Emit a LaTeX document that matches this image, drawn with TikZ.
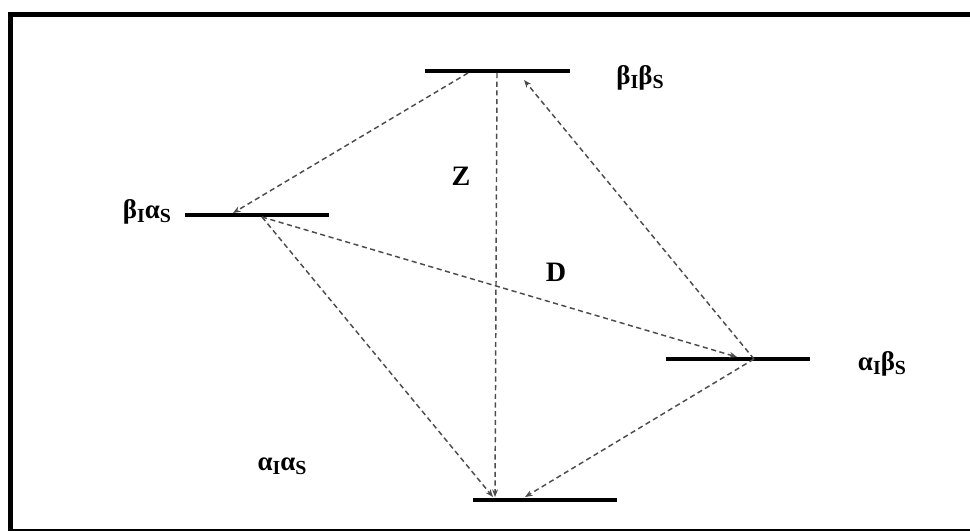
\documentclass[tikz,border=0pt]{standalone}
\usepackage{fontspec}
\setmainfont{Liberation Serif}
\usetikzlibrary{arrows.meta}
\newcommand{\spinsub}[1]{\raisebox{-0.35ex}{\fontsize{17}{19}\selectfont #1}}
\tikzset{
  every node/.style={inner sep=0pt},
  lvl/.style={line width=3.8pt},
  frame/.style={line width=4.3pt},
  trans/.style={-{Stealth[length=6.5pt,width=5pt]},draw=black!70,line width=1.25pt,
                dash pattern=on 4.4pt off 3pt},
  spin/.style={font=\fontsize{23}{27}\selectfont\bfseries},
  lab/.style={font=\fontsize{24}{28}\selectfont\bfseries},
}

\begin{document}
\begin{tikzpicture}[x=0.03cm,y=-0.03cm]
\useasboundingbox (0,0) rectangle (970,531);

% ---- frame ----
\draw[frame] (8,14.5) -- (970,14.5);
\draw[frame] (10.5,12) -- (10.5,531);
\draw[line width=1.3pt] (8,530) -- (970,530);

% ---- levels ----
\draw[lvl] (425,71) -- (570,71);
\draw[lvl] (185,215) -- (329,215);
\draw[lvl] (666,359) -- (810,359);
\draw[lvl] (473,500) -- (617,500);

\node[spin] (bb) at (640,78)  {β\spinsub{I}β\spinsub{S}};
\node[spin] (ba) at (147,212) {β\spinsub{I}α\spinsub{S}};
\node[spin] (ab) at (882,364) {α\spinsub{I}β\spinsub{S}};
\node[spin] (aa) at (282,466) {α\spinsub{I}α\spinsub{S}};

% ---- end points on the levels ----
\coordinate (bbL) at (468,73);
\coordinate (bbM) at (497,73);
\coordinate (bbR) at (524,80);
\coordinate (baL) at (233,213);
\coordinate (baR) at (262,217);
\coordinate (abL) at (737,357);
\coordinate (abR) at (754,359);
\coordinate (aaL) at (493,497);
\coordinate (aaM) at (495,497);
\coordinate (aaR) at (525,497);

% ---- transitions ----
\draw[trans] (bbL) -- (baL);
\draw[trans] (bbM) -- (aaM);
\draw[trans] (abR) -- (bbR);
\draw[trans] (baR) -- (abL);
\draw[trans] (baR) -- (aaL);
\draw[trans] (abR) -- (aaR);

\node[lab] (z) at (461,176) {Z};
\node[lab] (d) at (556,272) {D};

\end{tikzpicture}
\end{document}
